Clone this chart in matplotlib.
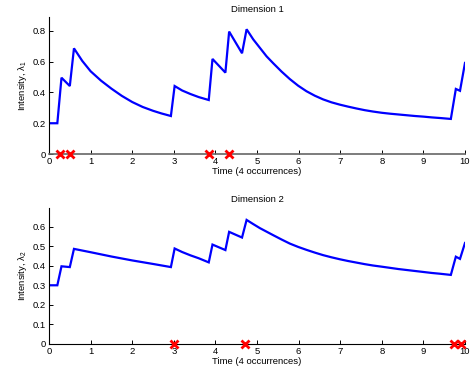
"""
Intensity of a two-dimensional Hawkes process, one panel per dimension
"""

import matplotlib
matplotlib.use("Agg")
import matplotlib.pyplot as plt

# ------------------------------------------------------------------------------------------
# Data
# ------------------------------------------------------------------------------------------
T1 = [0.0, 0.2, 0.3, 0.5, 0.6, 0.8, 1.0, 1.25, 1.5, 1.75, 2.0, 2.25, 2.5, 2.7, 2.93,
      3.02, 3.2, 3.4, 3.6, 3.84, 3.93, 4.24, 4.33, 4.64, 4.75, 4.91, 5.07, 5.23, 5.39,
      5.59, 5.79, 5.99, 6.19, 6.39, 6.59, 6.79, 6.99, 7.19, 7.39, 7.59, 7.79, 8.0, 8.2,
      8.4, 8.6, 8.8, 9.0, 9.2, 9.4, 9.66, 9.78, 9.88, 10.0]
LAMBDA1 = [0.2, 0.2, 0.496, 0.442, 0.687, 0.605, 0.538, 0.477, 0.425, 0.378, 0.338,
           0.306, 0.281, 0.264, 0.247, 0.442, 0.413, 0.39, 0.37, 0.351, 0.618, 0.529,
           0.796, 0.655, 0.811, 0.745, 0.69, 0.635, 0.59, 0.536, 0.487, 0.444, 0.408,
           0.379, 0.355, 0.336, 0.321, 0.308, 0.296, 0.285, 0.276, 0.268, 0.262, 0.257,
           0.252, 0.247, 0.243, 0.238, 0.234, 0.228, 0.423, 0.411, 0.592]

T2 = [0.0, 0.2, 0.3, 0.5, 0.6, 1.0, 1.5, 2.0, 2.5, 2.93, 3.02, 3.2, 3.4, 3.6, 3.84,
      3.93, 4.24, 4.33, 4.64, 4.75, 4.9, 5.07, 5.23, 5.39, 5.59, 5.79, 5.99, 6.19, 6.39,
      6.59, 6.79, 6.99, 7.19, 7.39, 7.59, 7.79, 8.0, 8.2, 8.4, 8.6, 8.8, 9.0, 9.2, 9.4,
      9.66, 9.78, 9.88, 10.0]
LAMBDA2 = [0.3, 0.3, 0.397, 0.393, 0.486, 0.469, 0.447, 0.427, 0.409, 0.393, 0.488,
           0.47, 0.453, 0.438, 0.417, 0.508, 0.480, 0.573, 0.544, 0.634, 0.614, 0.592,
           0.574, 0.556, 0.534, 0.513, 0.496, 0.481, 0.467, 0.454, 0.443, 0.433, 0.424,
           0.416, 0.408, 0.401, 0.395, 0.389, 0.383, 0.378, 0.373, 0.368, 0.363, 0.359,
           0.353, 0.446, 0.435, 0.516]

EVENTS1 = [0.27, 0.505, 3.85, 4.33]
EVENTS2 = [3.01, 4.72, 9.74, 9.90]

TITLES = ["Dimension 1", "Dimension 2"]
YLABELS = [r"Intensity, $\lambda_1$", r"Intensity, $\lambda_2$"]
XLABEL = "Time (4 occurrences)"
XTICKS = list(range(0, 11))
YTICKS1 = [0, 0.2, 0.4, 0.6, 0.8]
YTICKS2 = [0, 0.1, 0.2, 0.3, 0.4, 0.5, 0.6]

# ------------------------------------------------------------------------------------------
# Plot
# ------------------------------------------------------------------------------------------
plt.rcParams["font.family"] = ["Liberation Sans", "DejaVu Sans"]
plt.rcParams["mathtext.fontset"] = "custom"
plt.rcParams["mathtext.rm"] = "Liberation Sans"
plt.rcParams["mathtext.it"] = "Liberation Sans"

fig = plt.figure(figsize=(4.74, 3.72), dpi=100)
ax1 = fig.add_axes([0.1034, 0.586, 0.8776, 0.368])
ax2 = fig.add_axes([0.1034, 0.0753, 0.8776, 0.3656])

panels = [
    (ax1, T1, LAMBDA1, EVENTS1, YTICKS1, 0.89, "#666666"),
    (ax2, T2, LAMBDA2, EVENTS2, YTICKS2, 0.695, "black"),
]

for i, (ax, t, lam, ev, yt, ytop, base_col) in enumerate(panels):
    ax.plot(t, lam, color="#0000ff", lw=1.6, solid_joinstyle="miter")
    ax.plot(ev, [0] * len(ev), "x", color="red", ms=5.5, mew=2.0, clip_on=False, zorder=5)

    ax.set_xlim(0, 10)
    ax.set_ylim(0, ytop)
    ax.set_xticks(XTICKS)
    ax.set_yticks(yt)
    ax.set_yticklabels([f"{v:g}" for v in yt])

    ax.spines["top"].set_visible(False)
    ax.spines["right"].set_visible(False)
    ax.spines["left"].set_linewidth(0.8)
    ax.spines["bottom"].set_color(base_col)
    ax.spines["bottom"].set_linewidth(1.2 if i == 0 else 0.8)
    ax.tick_params(direction="in", length=3, width=0.7, labelsize=6.8, pad=2)

    ax.set_title(TITLES[i], fontsize=6.8, pad=4)
    ax.set_xlabel(XLABEL, fontsize=6.8, labelpad=1)
    ax.set_ylabel(YLABELS[i], fontsize=6.8, labelpad=3)

fig.savefig("out.png", dpi=100)
